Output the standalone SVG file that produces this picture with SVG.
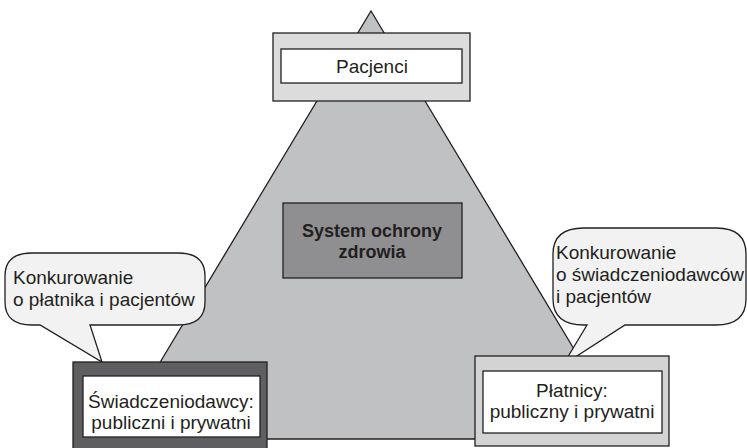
<svg xmlns="http://www.w3.org/2000/svg" width="747" height="448" viewBox="0 0 747 448">
<style>
.ln{stroke:#231f20;stroke-width:1.3;stroke-linejoin:miter}
.t{font-family:"Liberation Sans",Arial,sans-serif;font-size:19px;fill:#231f20}
.tb{font-family:"Liberation Sans",Arial,sans-serif;font-size:18px;font-weight:bold;fill:#231f20}
.bub{fill:#f2f2f2}
.white{fill:#ffffff}
</style>
<rect width="747" height="448" fill="#ffffff"/>
<g id="triangle">
<polygon class="ln" points="371,11 628,439 114,439" fill="#c0c1c3"/>
</g>
<g id="connectors">
<g id="bubble-left">
<path class="ln bub" d="M32,253 H178 Q205,253 205,276 V302 Q205,325 178,325 H90 L102,362 L40,325 H32 Q5,325 5,302 V276 Q5,253 32,253 Z"/>
<text class="t" x="13" y="284">Konkurowanie</text>
<text class="t" x="13" y="306">o płatnika i pacjentów</text>
</g>
<g id="bubble-right">
<path class="ln bub" d="M584,228 H716 Q746,228 746,254 V299 Q746,325 716,325 H625 L563,365 L587,325 H584 Q553,325 553,299 V254 Q553,228 584,228 Z"/>
<text class="t" x="556" y="259">Konkurowanie</text>
<text class="t" x="556" y="281">o świadczeniodawców</text>
<text class="t" x="556" y="303">i pacjentów</text>
</g>
</g>
<g id="node-pacjenci">
<rect class="ln" x="273" y="33" width="197" height="68" fill="#dcdcdd"/>
<rect class="ln white" x="281" y="49" width="181" height="34"/>
<text class="t" x="372" y="73" text-anchor="middle">Pacjenci</text>
</g>
<g id="node-system">
<rect class="ln" x="283" y="203" width="179" height="75" fill="#8f8f91"/>
<text class="tb" x="372" y="237" text-anchor="middle">System ochrony</text>
<text class="tb" x="372" y="258" text-anchor="middle">zdrowia</text>
</g>
<g id="node-swiadczeniodawcy">
<rect class="ln" x="73" y="362" width="194" height="90" fill="#5f5f61"/>
<rect class="ln white" x="83" y="376" width="177" height="61"/>
<text class="t" x="171" y="408" text-anchor="middle">Świadczeniodawcy:</text>
<text class="t" x="171" y="429" text-anchor="middle">publiczni i prywatni</text>
</g>
<g id="node-platnicy">
<rect class="ln" x="475" y="356" width="194" height="90" fill="#d3d3d4"/>
<rect class="ln white" x="483" y="371" width="179" height="62"/>
<text class="t" x="572" y="397" text-anchor="middle">Płatnicy:</text>
<text class="t" x="572" y="418" text-anchor="middle">publiczny i prywatni</text>
</g>
</svg>
